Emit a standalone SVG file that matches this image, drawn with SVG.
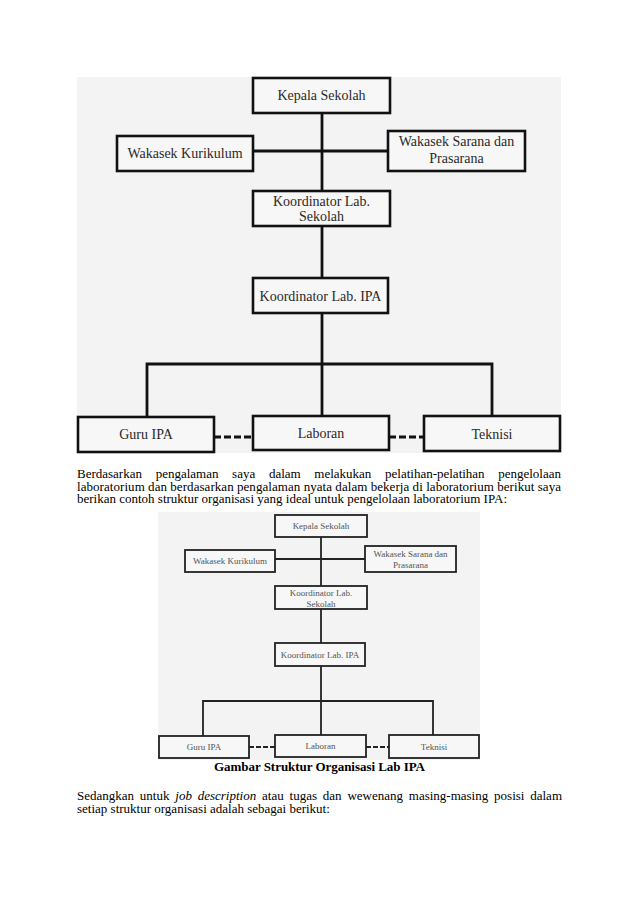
<svg xmlns="http://www.w3.org/2000/svg" width="638" height="903" viewBox="0 0 638 903">
<style>
  .bg { fill: #f3f3f3; }
  .box { fill: #f7f7f7; stroke: #111; stroke-width: 2.6; }
  .boxs { fill: #f7f7f7; stroke: #222; stroke-width: 1.8; }
  .ln { stroke: #111; stroke-width: 2.8; fill: none; }
  .lns { stroke: #222; stroke-width: 1.8; fill: none; }
  .dash { stroke: #111; stroke-width: 2.8; stroke-dasharray: 7 3; fill: none; }
  .dashs { stroke: #222; stroke-width: 1.8; stroke-dasharray: 5 2; fill: none; }
  .lbl { font-family: "Liberation Serif", serif; font-size: 14px; fill: #2a2a2a; text-anchor: middle; }
  .lbls { font-family: "Liberation Serif", serif; font-size: 9px; fill: #555; text-anchor: middle; }
  .para { font-family: "Liberation Serif", serif; font-size: 13px; fill: #000; }
  .it { font-style: italic; }
  .cap { font-family: "Liberation Serif", serif; font-size: 13px; font-weight: bold; fill: #000; text-anchor: middle; }
</style>
<rect width="638" height="903" fill="#ffffff"/>

<!-- Top chart -->
<g id="chart1">
  <rect class="bg" x="77" y="77" width="484" height="376"/>
  <g id="connectors1">
    <line class="ln" x1="322" y1="113" x2="322" y2="191"/>
    <line class="ln" x1="253" y1="151" x2="388" y2="151"/>
    <line class="ln" x1="322" y1="226" x2="322" y2="278"/>
    <line class="ln" x1="322" y1="313" x2="322" y2="416"/>
    <polyline class="ln" points="147,417 147,364 492,364 492,416"/>
    <line class="dash" x1="214" y1="437" x2="253" y2="437"/>
    <line class="dash" x1="389" y1="437" x2="424" y2="437"/>
  </g>
  <g id="n1-kepala"><rect class="box" x="253" y="78" width="137" height="35"/><text class="lbl" x="321.5" y="100">Kepala Sekolah</text></g>
  <g id="n1-kurikulum"><rect class="box" x="117" y="136" width="136" height="35"/><text class="lbl" x="185" y="158">Wakasek Kurikulum</text></g>
  <g id="n1-sarana"><rect class="box" x="388" y="131" width="137" height="40"/><text class="lbl" x="456.5" y="146">Wakasek Sarana dan</text><text class="lbl" x="456.5" y="163">Prasarana</text></g>
  <g id="n1-koordsekolah"><rect class="box" x="253" y="191" width="137" height="35"/><text class="lbl" x="321.5" y="206">Koordinator Lab.</text><text class="lbl" x="321.5" y="221">Sekolah</text></g>
  <g id="n1-koordipa"><rect class="box" x="253" y="278" width="135" height="35"/><text class="lbl" x="320.5" y="301">Koordinator Lab. IPA</text></g>
  <g id="n1-guru"><rect class="box" x="78" y="417" width="136" height="35"/><text class="lbl" x="146" y="439">Guru IPA</text></g>
  <g id="n1-laboran"><rect class="box" x="253" y="416" width="136" height="34"/><text class="lbl" x="321" y="438">Laboran</text></g>
  <g id="n1-teknisi"><rect class="box" x="424" y="416" width="136" height="35"/><text class="lbl" x="492" y="439">Teknisi</text></g>
</g>

<!-- Paragraph 1 -->
<g id="para1" class="para">
  <text x="77" y="478">Berdasarkan</text>
  <text x="155.7" y="478">pengalaman</text>
  <text x="232.1" y="478">saya</text>
  <text x="268.9" y="478">dalam</text>
  <text x="314.3" y="478">melakukan</text>
  <text x="385" y="478">pelatihan-pelatihan</text>
  <text x="561" y="478" text-anchor="end">pengelolaan</text>
  <text x="77" y="490.5" textLength="484" lengthAdjust="spacing">laboratorium dan berdasarkan pengalaman nyata dalam bekerja di laboratorium berikut saya</text>
  <text x="77" y="503">berikan contoh struktur organisasi yang ideal untuk pengelolaan laboratorium IPA:</text>
</g>

<!-- Small chart -->
<g id="chart2">
  <rect class="bg" x="158" y="512" width="322" height="248"/>
  <g id="connectors2">
    <line class="lns" x1="321" y1="537" x2="321" y2="586"/>
    <line class="lns" x1="275" y1="559" x2="365" y2="559"/>
    <line class="lns" x1="321" y1="609" x2="321" y2="643"/>
    <line class="lns" x1="321" y1="666" x2="321" y2="735"/>
    <polyline class="lns" points="203,736 203,701 433,701 433,735"/>
    <line class="dashs" x1="249" y1="747" x2="275" y2="747"/>
    <line class="dashs" x1="366" y1="747" x2="389" y2="747"/>
  </g>
  <g id="n2-kepala"><rect class="boxs" x="275" y="515" width="92" height="22"/><text class="lbls" x="321" y="529">Kepala Sekolah</text></g>
  <g id="n2-kurikulum"><rect class="boxs" x="185" y="550" width="90" height="22"/><text class="lbls" x="230" y="564">Wakasek Kurikulum</text></g>
  <g id="n2-sarana"><rect class="boxs" x="365" y="546" width="91" height="26"/><text class="lbls" x="410.5" y="557">Wakasek Sarana dan</text><text class="lbls" x="410.5" y="568">Prasarana</text></g>
  <g id="n2-koordsekolah"><rect class="boxs" x="275" y="586" width="92" height="23"/><text class="lbls" x="321" y="596">Koordinator Lab.</text><text class="lbls" x="321" y="607">Sekolah</text></g>
  <g id="n2-koordipa"><rect class="boxs" x="275" y="643" width="90" height="23"/><text class="lbls" x="320" y="658">Koordinator Lab. IPA</text></g>
  <g id="n2-guru"><rect class="boxs" x="159" y="736" width="90" height="22"/><text class="lbls" x="204" y="750">Guru IPA</text></g>
  <g id="n2-laboran"><rect class="boxs" x="275" y="735" width="91" height="22"/><text class="lbls" x="320.5" y="749">Laboran</text></g>
  <g id="n2-teknisi"><rect class="boxs" x="389" y="735" width="90" height="23"/><text class="lbls" x="434" y="750">Teknisi</text></g>
</g>

<text class="cap" x="319.5" y="771" textLength="211" lengthAdjust="spacing">Gambar Struktur Organisasi Lab IPA</text>

<!-- Paragraph 2 -->
<g id="para2" class="para">
  <text x="77" y="800">Sedangkan</text>
  <text x="139.8" y="800">untuk</text>
  <text x="175.3" y="800" class="it">job</text>
  <text x="197.7" y="800" class="it">description</text>
  <text x="262" y="800">atau</text>
  <text x="289.6" y="800">tugas</text>
  <text x="322.8" y="800">dan</text>
  <text x="347.4" y="800">wewenang</text>
  <text x="408.8" y="800">masing-masing</text>
  <text x="494.1" y="800">posisi</text>
  <text x="562" y="800" text-anchor="end">dalam</text>
  <text x="77" y="812.5">setiap struktur organisasi adalah sebagai berikut:</text>
</g>
</svg>
